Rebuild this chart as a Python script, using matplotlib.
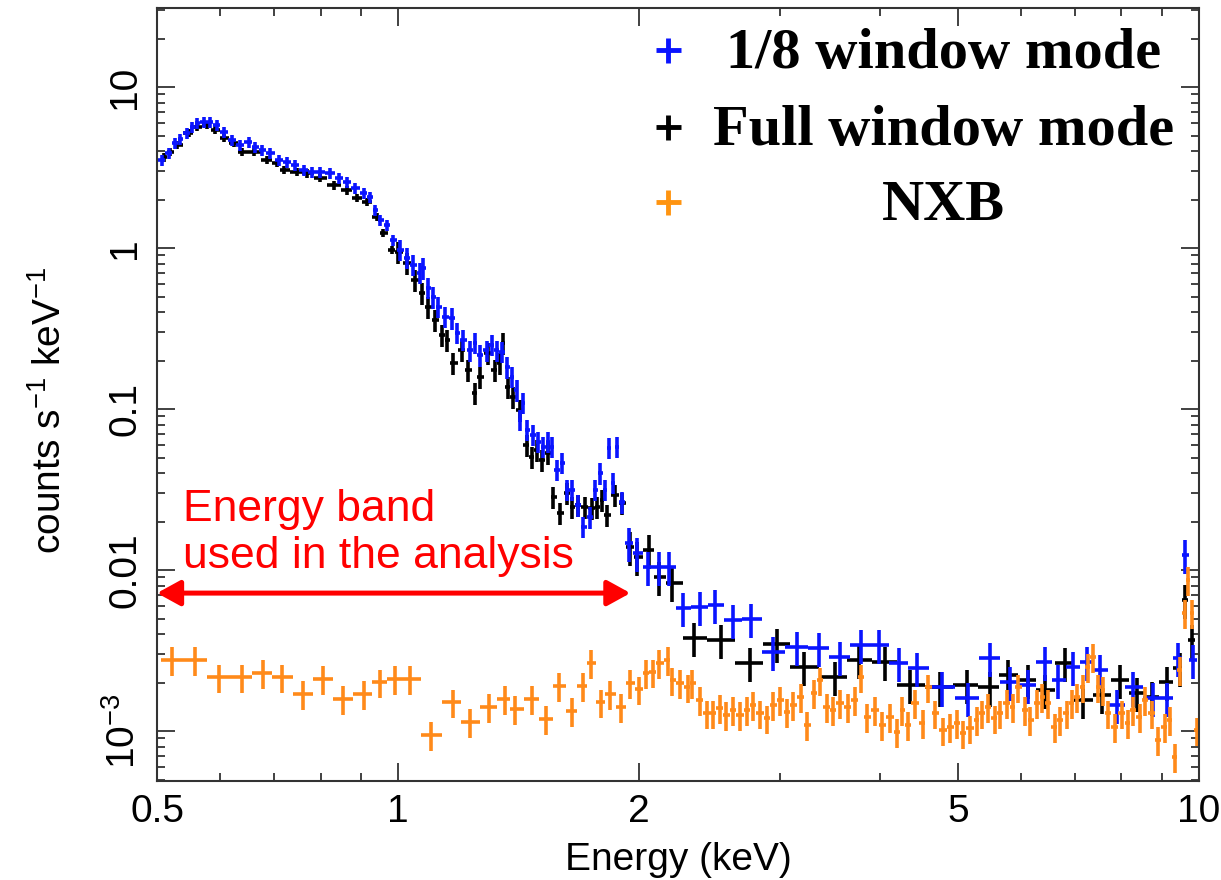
import numpy as np
import matplotlib
matplotlib.use("Agg")
import matplotlib.pyplot as plt
from matplotlib.ticker import FixedLocator, FixedFormatter, NullFormatter

plt.rcParams["font.family"] = ["Liberation Sans", "DejaVu Sans"]
plt.rcParams["mathtext.default"] = "regular"

# -------------------------
# DATA
# -------------------------
# 1/8 window mode, fine bins
blue_e = [0.507, 0.517, 0.527, 0.534, 0.545, 0.553, 0.561, 0.572, 0.582, 0.594,
          0.606, 0.620, 0.635, 0.651, 0.663, 0.676, 0.692, 0.710, 0.727, 0.743,
          0.763, 0.781, 0.799, 0.822, 0.844, 0.863, 0.883, 0.907, 0.923, 0.936,
          0.950, 0.969, 0.986, 1.006, 1.026, 1.044, 1.065, 1.074, 1.090, 1.106,
          1.122, 1.145, 1.168, 1.185, 1.205, 1.230, 1.247, 1.265, 1.291, 1.309,
          1.328, 1.348, 1.368, 1.387, 1.407, 1.420, 1.432, 1.448, 1.474, 1.495,
          1.517, 1.539, 1.556, 1.579, 1.602, 1.625, 1.649, 1.677, 1.702, 1.736,
          1.762, 1.787, 1.813, 1.834, 1.855, 1.876, 1.903,
          # coarse bins
          1.94, 1.99, 2.05, 2.12, 2.18, 2.27, 2.38, 2.49, 2.62, 2.76,
          2.94, 3.15, 3.35, 3.56, 3.78, 3.98, 4.22, 4.45, 4.77, 5.14,
          5.48, 5.81, 6.11, 6.42, 6.67, 6.96, 7.24, 7.52, 7.90, 8.26,
          8.75, 9.12, 9.42, 9.60, 9.82]
blue_rate = [3.52, 3.89, 4.49, 4.75, 5.18, 5.64, 5.97, 6.07, 6.07, 5.81,
             5.25, 4.69, 4.36, 4.55, 4.24, 4.06, 3.89, 3.52, 3.42, 3.28,
             3.05, 2.97, 2.97, 2.92, 2.72, 2.57, 2.36, 2.20, 2.07, 1.72,
             1.49, 1.39, 1.12, 0.972, 0.867, 0.784, 0.700, 0.751, 0.565, 0.496,
             0.430, 0.373, 0.367, 0.297, 0.269, 0.232, 0.257, 0.216, 0.232, 0.250,
             0.232, 0.226, 0.182, 0.158, 0.131, 0.0855, 0.109, 0.0741, 0.0690, 0.0624,
             0.0581, 0.0624, 0.0581, 0.0418, 0.0462, 0.0314, 0.0314, 0.0253, 0.0185, 0.0213,
             0.0314, 0.0400, 0.0314, 0.0573, 0.0347, 0.0581, 0.0264,
             0.0147, 0.0128, 0.0105, 0.0105, 0.0105, 0.0058, 0.00589, 0.00607, 0.00489, 0.00496,
             0.0031, 0.00333, 0.00328, 0.00288, 0.00342, 0.00342, 0.00264, 0.00246, 0.00187, 0.0016,
             0.00284, 0.00201, 0.00193, 0.00268, 0.00207, 0.0025, 0.00268, 0.00239, 0.00145, 0.00187,
             0.0016, 0.0016, 0.00284, 0.0124, 0.00276]

# Full window mode
black_e = [0.510, 0.519, 0.530, 0.548, 0.561, 0.577, 0.591, 0.606, 0.624, 0.638,
           0.661, 0.686, 0.706, 0.720, 0.748, 0.770, 0.799, 0.832, 0.863, 0.889,
           0.915, 0.942, 0.958, 0.983, 1.000, 1.026, 1.050, 1.071, 1.090, 1.112,
           1.135, 1.151, 1.171, 1.202, 1.223, 1.247, 1.265, 1.294, 1.321, 1.340,
           1.352, 1.371, 1.391, 1.420, 1.448, 1.469, 1.491, 1.512, 1.539, 1.561,
           1.593, 1.625, 1.649, 1.677, 1.711, 1.746, 1.772, 1.797, 1.823, 1.866,
           1.903,
           # coarse bins
           1.95, 1.99, 2.06, 2.12, 2.20, 2.34, 2.53, 2.75, 2.97, 3.21,
           3.51, 3.76, 4.05, 4.36, 4.75, 5.13, 5.48, 5.77, 6.11, 6.42,
           6.80, 7.16, 7.57, 7.97, 8.37, 8.73, 9.12, 9.46, 9.60, 9.79]
black_rate = [3.67, 3.95, 4.36, 5.18, 5.64, 5.81, 5.41, 4.82, 4.49, 3.95,
              3.95, 3.52, 3.37, 3.05, 2.97, 2.92, 2.72, 2.46, 2.29, 2.05,
              1.93, 1.56, 1.24, 0.972, 0.944, 0.807, 0.632, 0.525, 0.430, 0.357,
              0.288, 0.269, 0.193, 0.232, 0.175, 0.126, 0.158, 0.223, 0.175, 0.193,
              0.257, 0.137, 0.119, 0.0986, 0.0597, 0.0503, 0.0556, 0.0482, 0.0533, 0.0284,
              0.0226, 0.0301, 0.0246, 0.0253, 0.0246, 0.0243, 0.0246, 0.0272, 0.0220, 0.0292,
              0.0261,
              0.0139, 0.0121, 0.0133, 0.00906, 0.0083, 0.00378, 0.00367, 0.00264, 0.00347, 0.0025,
              0.00216, 0.00276, 0.00268, 0.00193, 0.00187, 0.00193, 0.00187, 0.00223, 0.00207, 0.0018,
              0.00264, 0.00156, 0.00168, 0.00207, 0.00172, 0.00163, 0.00201, 0.00246, 0.00652, 0.00367]

# NXB
nxb_e = [0.522, 0.557, 0.598, 0.638, 0.678, 0.716, 0.761, 0.806, 0.853, 0.906,
         0.949, 0.991, 1.035, 1.10, 1.17, 1.23, 1.30, 1.36, 1.40, 1.47,
         1.53, 1.59, 1.65, 1.70, 1.74, 1.79, 1.84, 1.90, 1.95, 2.00,
         2.04, 2.08, 2.12, 2.17, 2.20, 2.25, 2.30, 2.33, 2.38, 2.43,
         2.47, 2.52, 2.57, 2.62, 2.67, 2.73, 2.77, 2.83, 2.89, 2.94,
         3.00, 3.06, 3.11, 3.18, 3.24, 3.31, 3.36, 3.43, 3.49, 3.56,
         3.64, 3.72, 3.78, 3.85, 3.94, 4.02, 4.11, 4.20, 4.26, 4.33,
         4.42, 4.52, 4.59, 4.68, 4.79, 4.89, 4.99, 5.07, 5.18, 5.28,
         5.36, 5.45, 5.56, 5.64, 5.76, 5.86, 5.94, 6.07, 6.15, 6.28,
         6.37, 6.47, 6.61, 6.70, 6.84, 6.94, 7.04, 7.16, 7.26, 7.38,
         7.48, 7.59, 7.69, 7.85, 8.01, 8.15, 8.26, 8.43, 8.55, 8.73,
         8.89, 9.06, 9.20, 9.33, 9.46, 9.60, 9.69, 9.80, 9.93]
nxb_rate = [0.00276, 0.00276, 0.00216, 0.00216, 0.00229, 0.00216, 0.0017, 0.0021, 0.00158, 0.0017,
            0.00201, 0.0021, 0.0021, 0.000944, 0.00151, 0.00114, 0.00141, 0.00158, 0.00137, 0.00158,
            0.00119, 0.0019, 0.00133, 0.0019, 0.00264, 0.00151, 0.0017, 0.00141, 0.00199, 0.00182,
            0.00229, 0.00232, 0.00264, 0.00276, 0.00207, 0.00199, 0.00187, 0.00199, 0.00156, 0.00129,
            0.00129, 0.00139, 0.00126, 0.00135, 0.00126, 0.00135, 0.00145, 0.00129, 0.0012, 0.00145,
            0.00156, 0.00131, 0.00145, 0.00163, 0.00109, 0.00172, 0.00207, 0.00141, 0.00135, 0.00149,
            0.00141, 0.00156, 0.00216, 0.00122, 0.00135, 0.00109, 0.00122, 0.000986, 0.00135, 0.00109,
            0.00149, 0.00112, 0.00187, 0.00129, 0.00101, 0.00106, 0.00112, 0.00097, 0.00104, 0.00117,
            0.00129, 0.00141, 0.0012, 0.00129, 0.00149, 0.00141, 0.00187, 0.00135, 0.00117, 0.00149,
            0.00163, 0.00149, 0.00106, 0.00117, 0.00129, 0.00149, 0.00163, 0.00187, 0.0025, 0.00288,
            0.00187, 0.0018, 0.00129, 0.00106, 0.00129, 0.00112, 0.00135, 0.00122, 0.00156, 0.00129,
            0.00088, 0.00106, 0.00117, 0.00069, 0.00239, 0.0054, 0.00867, 0.0054, 0.00101]

x_ticks = [0.5, 1, 2, 5, 10]
x_tick_labels = ["0.5", "1", "2", "5", "10"]
y_ticks = [1e-3, 1e-2, 0.1, 1, 10]
y_tick_labels = ["10$^{-3}$", "0.01", "0.1", "1", "10"]
legend_labels = ["1/8 window mode", "Full window mode", "NXB"]

BLUE = "#0a14ff"
BLACK = "#000000"
ORANGE = "#ff8a1a"


def bin_halfwidths(e):
    e = np.asarray(e, dtype=float)
    mid = np.sqrt(e[1:] * e[:-1])
    lo = np.concatenate([[e[0] ** 2 / mid[0]], mid])
    hi = np.concatenate([mid, [e[-1] ** 2 / mid[-1]]])
    return np.vstack([e - lo, hi - e])


def rel_err(e, fine, mid, coarse):
    # statistical error grows as the spectrum falls off
    e = np.asarray(e)
    return np.where(e < 1.0, fine, np.where(e < 1.93, mid, coarse))


# -------------------------
# FIGURE
# -------------------------
fig = plt.figure(figsize=(12.21, 8.8), dpi=100)
ax = fig.add_axes([0.1286, 0.1125, 0.8534, 0.8784])

series = [
    (black_e, black_rate, BLACK, (0.06, 0.16, 0.24)),
    (blue_e, blue_rate, BLUE, (0.08, 0.15, 0.24)),
    (nxb_e, nxb_rate, ORANGE, (0.2, 0.2, 0.2)),
]
for e, r, c, errs in series:
    r = np.asarray(r)
    ax.errorbar(e, r, xerr=bin_halfwidths(e), yerr=r * rel_err(e, *errs),
                fmt="none", ecolor=c, elinewidth=2.6, capsize=0)

ax.set_xscale("log")
ax.set_yscale("log")
ax.set_xlim(0.5, 10)
ax.set_ylim(4.9e-4, 31)

ax.xaxis.set_major_locator(FixedLocator(x_ticks))
ax.xaxis.set_major_formatter(FixedFormatter(x_tick_labels))
ax.xaxis.set_minor_locator(FixedLocator([0.6, 0.7, 0.8, 0.9, 3, 4, 6, 7, 8, 9]))
ax.xaxis.set_minor_formatter(NullFormatter())
ax.yaxis.set_major_locator(FixedLocator(y_ticks))
ax.yaxis.set_major_formatter(FixedFormatter(y_tick_labels))
ax.yaxis.set_minor_locator(FixedLocator(
    [m * 10.0 ** k for k in range(-4, 2) for m in range(2, 10)]))
ax.yaxis.set_minor_formatter(NullFormatter())

ax.tick_params(which="both", direction="in", top=True, right=True,
               color="#333333", width=1.3, labelsize=28)
ax.tick_params(which="major", length=13)
ax.tick_params(which="minor", length=6)
ax.tick_params(axis="x", pad=9)
ax.tick_params(axis="y", pad=10)
for lab in ax.get_yticklabels():
    lab.set_rotation(90)
    lab.set_va("center")
for s in ax.spines.values():
    s.set_color("#333333")
    s.set_linewidth(1.5)

ax.set_xlabel("Energy (keV)", fontsize=28, labelpad=9)
ax.set_ylabel("counts s$^{-1}$ keV$^{-1}$", fontsize=28)
ax.yaxis.set_label_coords(-0.085, 0.48)

# energy band annotation
ax.annotate("", xy=(0.5, 0.0072), xytext=(1.95, 0.0072),
            arrowprops=dict(arrowstyle="<|-|>,head_length=0.4,head_width=0.22",
                            color="red", lw=3.6, mutation_scale=35,
                            shrinkA=0, shrinkB=0))
ax.text(0.025, 0.2755, "Energy band\nused in the analysis", transform=ax.transAxes,
        color="red", fontsize=32, ha="left", va="baseline", linespacing=1.2)

# legend drawn by hand (labels are centred)
leg_colors = [BLUE, BLACK, "#ff9410"]
leg_marker_y = [0.946, 0.846, 0.749]
leg_text_y = [0.922, 0.823, 0.726]
for lab, c, my, ty in zip(legend_labels, leg_colors, leg_marker_y, leg_text_y):
    ax.plot([0.490], [my], marker="+", ms=18, mew=3.5, color=c,
            transform=ax.transAxes, clip_on=False)
    ax.text(0.755, ty, lab, transform=ax.transAxes, ha="center", va="baseline",
            fontsize=42, fontweight="bold",
            family=["Liberation Serif", "DejaVu Serif"])

fig.savefig("out.png", dpi=100)
